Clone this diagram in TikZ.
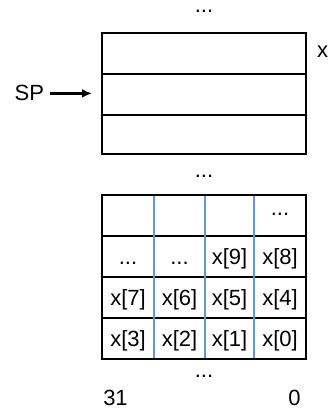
\documentclass[tikz,border=0pt]{standalone}
\usepackage{fontspec}
\usetikzlibrary{arrows.meta}
\setmainfont{Liberation Sans}
\definecolor{colline}{RGB}{100,150,210}
\begin{document}
\begin{tikzpicture}[x=1pt,y=-1pt,
  every node/.style={font=\fontsize{22}{26}\selectfont, inner sep=0pt, outer sep=0pt},
  lbl/.style={anchor=base},
  rowbox/.style={draw=black, line width=1.6pt, minimum width=204pt, anchor=north west},
  colline/.style={draw=colline, line width=1.2pt},
  pointer/.style={line width=2.2pt, -{Latex[length=10pt,width=9pt]}, shorten >=10pt}]
\useasboundingbox (0,0) rectangle (328,409);

% upper memory block
\node[rowbox, minimum height=41pt] (r1) at (102,33) {};
\node[rowbox, minimum height=41pt] (r2) at (102,74) {};
\node[rowbox, minimum height=39pt] (r3) at (102,115) {};

\node[lbl] (dtop) at (204,12.5) {...};
\node[lbl] (dmid) at (204,177) {...};
\node[lbl, anchor=base west] (xlab) at (317,58) {x};

% stack pointer label and arrow
\node[lbl, anchor=base east] (sp) at (44,101) {SP};
\coordinate (spa) at ([xshift=6pt]sp.east);
\draw[pointer] (spa) -- (spa -| r2.west);

% lower block with four byte columns
\node[rowbox, minimum height=41pt] (b1) at (102,195) {};
\node[rowbox, minimum height=41pt] (b2) at (102,236) {};
\node[rowbox, minimum height=41pt] (b3) at (102,277) {};
\node[rowbox, minimum height=41pt] (b4) at (102,318) {};

\foreach \cx in {154,205,254} {
  \coordinate (ct\cx) at (\cx,195);
  \coordinate (cb\cx) at (\cx,359);
  \draw[colline] (ct\cx) -- (cb\cx);
}
\draw[line width=1.8pt] (b1.north west) rectangle (b4.south east);

\node[lbl] (c14) at (280,215) {...};
\node[lbl] (c21) at (128,264) {...};
\node[lbl] (c22) at (179.5,264) {...};
\node[lbl] (c23) at (229.5,264) {x[9]};
\node[lbl] (c24) at (280,264) {x[8]};
\node[lbl] (c31) at (128,305) {x[7]};
\node[lbl] (c32) at (179.5,305) {x[6]};
\node[lbl] (c33) at (229.5,305) {x[5]};
\node[lbl] (c34) at (280,305) {x[4]};
\node[lbl] (c41) at (128,346) {x[3]};
\node[lbl] (c42) at (179.5,346) {x[2]};
\node[lbl] (c43) at (229.5,346) {x[1]};
\node[lbl] (c44) at (280,346) {x[0]};

\node[lbl] (dbot) at (204,377) {...};
\node[lbl] (b31) at (115.5,405) {31};
\node[lbl] (b0) at (294.5,405) {0};
\end{tikzpicture}
\end{document}
